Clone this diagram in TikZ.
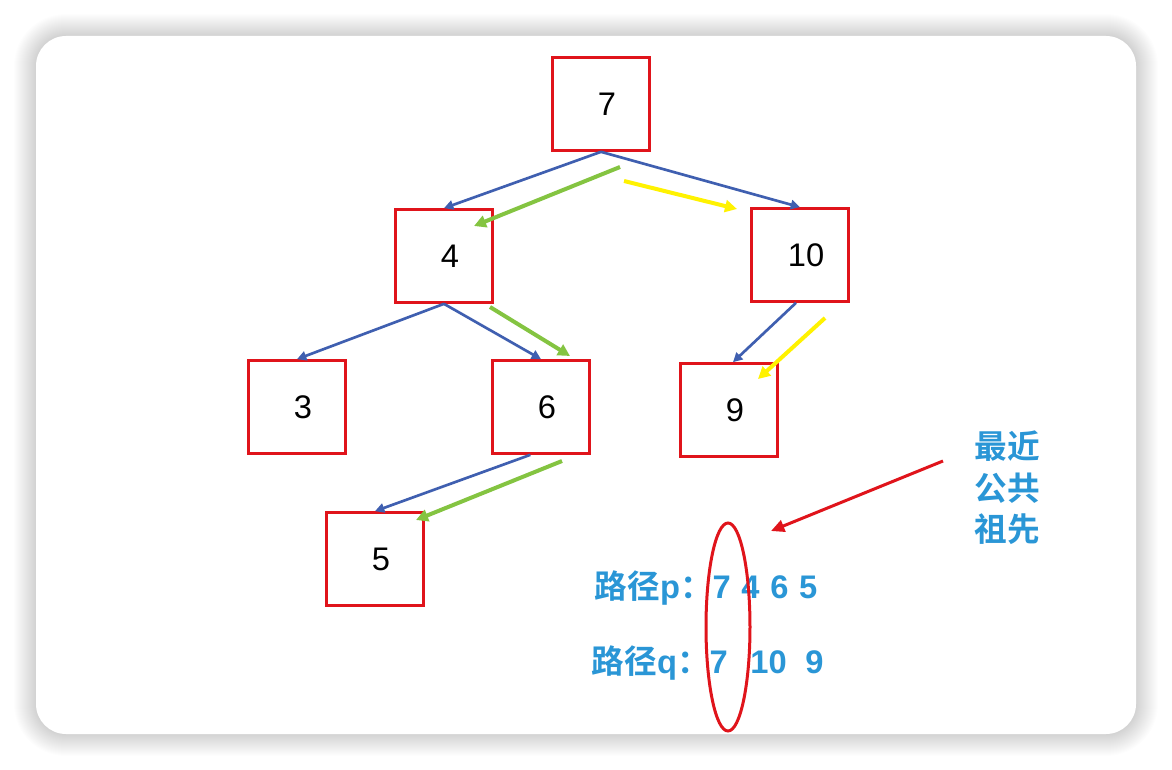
\documentclass[tikz,border=0pt]{standalone}
\usepackage{fontspec}
\setmainfont{Liberation Sans}
\newfontfamily\cjk{Noto Sans CJK SC}[BoldFont={Noto Sans CJK SC Bold}]
\usetikzlibrary{arrows.meta,shapes.geometric}
\definecolor{boxred}{HTML}{E0141B}
\definecolor{edgeblue}{HTML}{3F5FB0}
\definecolor{pathgreen}{HTML}{84C441}
\definecolor{pathyellow}{HTML}{FFF200}
\definecolor{textblue}{HTML}{2A96D6}
\tikzset{
  numbox/.style={draw=boxred, line width=2.25pt, minimum width=72.5pt, minimum height=69.5pt, font=\fontsize{24.5}{24.5}\selectfont, execute at begin node=\hspace*{9pt}},
  edge/.style={edgeblue, line width=2pt, -{Triangle[length=7pt,width=7pt]}},
  hint/.style={line width=3pt, -{Triangle[length=9pt,width=9pt]}},
  note/.style={textblue, font=\bfseries\fontsize{24.5}{31}\selectfont}
}
\begin{document}
\begin{tikzpicture}[x=0.75pt, y=-0.75pt]
\useasboundingbox (0,0) rectangle (1172,770);
% card with soft shadow
\foreach \s in {1,...,22}{
  \pgfmathsetmacro\r{(30+\s)*0.75}
  \fill[black, opacity=0.008, rounded corners=\r pt] (36-\s,36-\s) rectangle (1136+\s,734+\s);
}
\fill[white, rounded corners=22.5pt] (36,36) rectangle (1136,734);
% tree
\node[numbox] (n7) at (601,104) {7};
\node[numbox] (n4) at (444,256) {4};
\node[numbox] (n10) at (800,255) {10};
\node[numbox] (n3) at (297,407) {3};
\node[numbox] (n6) at (541,407) {6};
\node[numbox] (n9) at (729,410) {9};
\node[numbox] (n5) at (375,559) {5};
\draw[edge] (n7.south) -- (n4.north);
\draw[edge] (n7.south) -- (n10.north);
\draw[edge] (n4.south) -- (n3.north);
\draw[edge] (n4.south) -- (n6.north);
\draw[edge] ([xshift=-3pt]n10.south) -- ([xshift=3pt]n9.north);
\draw[edge] ([xshift=-8pt]n6.south) -- (n5.north);
% path p
\coordinate (g1) at (620,167); \coordinate (g2) at (474,226);
\coordinate (g3) at (490,307); \coordinate (g4) at (570,356);
\coordinate (g5) at (562,461); \coordinate (g6) at (416,520);
\draw[hint, pathgreen] (g1) -- (g2);
\draw[hint, pathgreen] (g3) -- (g4);
\draw[hint, pathgreen] (g5) -- (g6);
% path q
\coordinate (y1) at (624,181); \coordinate (y2) at (737,209);
\coordinate (y3) at (825,318); \coordinate (y4) at (758,379);
\draw[hint, pathyellow] (y1) -- (y2);
\draw[hint, pathyellow] (y3) -- (y4);
% paths and common ancestor
\node[note, anchor=west] (pp) at (590,588) {{\cjk 路径}p{\cjk ：}7\hspace{8pt}4\hspace{8pt}6\hspace{8pt}5};
\node[note, anchor=west] (pq) at (587,663) {{\cjk 路径}q{\cjk ：}7\hspace{17pt}10\hspace{14pt}9};
\node[note, font=\cjk\bfseries\fontsize{24.5}{31}\selectfont, align=center] (lca) at (1007,488) {最近\\公共\\祖先};
\node[draw=boxred, line width=2.25pt, ellipse, minimum width=33pt, minimum height=156pt] (ring) at (728,627) {};
\coordinate (r1) at (943,461); \coordinate (r2) at (771,531);
\draw[boxred, line width=2.25pt, -{Triangle[length=10pt,width=9pt]}] (r1) -- (r2);
\end{tikzpicture}
\end{document}
